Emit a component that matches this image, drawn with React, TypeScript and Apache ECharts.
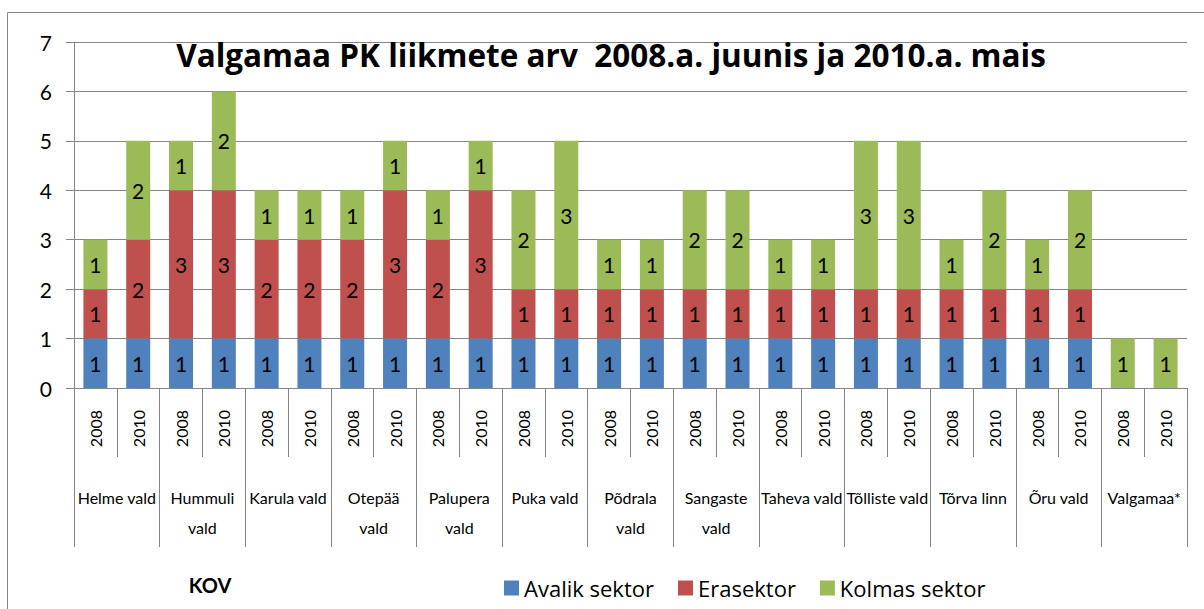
import React, { useEffect, useRef } from "react";
import * as echarts from "echarts";

const groups = [
  "Helme vald",
  "Hummuli\nvald",
  "Karula vald",
  "Otepää\nvald",
  "Palupera\nvald",
  "Puka vald",
  "Põdrala\nvald",
  "Sangaste\nvald",
  "Taheva vald",
  "Tõlliste vald",
  "Tõrva linn",
  "Õru vald",
  "Valgamaa*",
];
const years = ["2008", "2010"];

// values per bar: order = group1-2008, group1-2010, group2-2008, ...
const avalik = [1, 1, 1, 1, 1, 1, 1, 1, 1, 1, 1, 1, 1, 1, 1, 1, 1, 1, 1, 1, 1, 1, 1, 1, 0, 0];
const erasektor = [1, 2, 3, 3, 2, 2, 2, 3, 2, 3, 1, 1, 1, 1, 1, 1, 1, 1, 1, 1, 1, 1, 1, 1, 0, 0];
const kolmas = [1, 2, 1, 2, 1, 1, 1, 1, 1, 1, 2, 3, 1, 1, 2, 2, 1, 1, 3, 3, 1, 2, 1, 2, 1, 1];

const yTicks = { min: 0, max: 7, interval: 1 };
const titleText = "Valgamaa PK liikmete arv  2008.a. juunis ja 2010.a. mais";
const axisTitle = "KOV";

const FONT = "Lato, 'Noto Sans', sans-serif";
const WIDE = "'Open Sans', 'Noto Sans', sans-serif";
const GRAY = "#868686";

export default function App() {
  const ref = useRef<HTMLDivElement>(null);
  useEffect(() => {
    if (!ref.current) return;
    const chart = echarts.init(ref.current, null, { renderer: "svg" });
    const cats: string[] = [];
    groups.forEach(() => years.forEach((y) => cats.push(y)));
    const lbl = {
      show: true,
      position: "inside",
      color: "#000",
      fontSize: 21,
      fontFamily: FONT,
      formatter: (p: any) => (p.value ? String(p.value) : ""),
    };
    const mk = (name: string, data: number[], color: string) => ({
      name,
      type: "bar",
      stack: "s",
      data,
      barWidth: 24,
      itemStyle: { color },
      label: lbl,
      xAxisIndex: 0,
    });
    chart.setOption({
      animation: false,
      textStyle: { fontFamily: FONT },
      title: {
        text: titleText,
        left: 611,
        textAlign: "center",
        top: 38,
        padding: 0,
        textStyle: { fontSize: 31.5, fontWeight: "bold", color: "#000", fontFamily: WIDE },
      },
      grid: { left: 74, right: 17, top: 42, bottom: 221, containLabel: false },
      legend: {
        left: 504,
        top: 577,
        padding: 0,
        itemWidth: 15,
        itemHeight: 15,
        itemGap: 24,
        icon: "rect",
        textStyle: { fontSize: 22, color: "#000", fontFamily: WIDE },
        data: ["Avalik sektor", "Erasektor", "Kolmas sektor"],
      },
      xAxis: [
        {
          type: "category",
          data: cats,
          position: "bottom",
          axisLine: { show: true, lineStyle: { color: GRAY } },
          axisTick: { show: true, length: 69, interval: 0, lineStyle: { color: GRAY } },
          axisLabel: {
            interval: 0,
            rotate: 90,
            margin: 22,
            fontSize: 16,
            color: "#000",
            fontFamily: FONT,
          },
        },
        {
          type: "category",
          data: groups,
          position: "bottom",
          axisLine: { show: false },
          axisTick: { show: true, length: 159, interval: 0, lineStyle: { color: GRAY } },
          axisLabel: {
            interval: 0,
            margin: 94,
            fontSize: 16,
            lineHeight: 30,
            color: "#000",
            fontFamily: FONT,
            verticalAlign: "top",
          },
        },
      ],
      yAxis: {
        type: "value",
        min: yTicks.min,
        max: yTicks.max,
        interval: yTicks.interval,
        axisLine: { show: true, lineStyle: { color: GRAY } },
        axisTick: { show: true, length: 8, lineStyle: { color: GRAY } },
        splitLine: { show: true, lineStyle: { color: GRAY } },
        axisLabel: { fontSize: 21, color: "#000", margin: 22, fontFamily: FONT },
      },
      series: [
        mk("Avalik sektor", avalik, "#4F81BD"),
        mk("Erasektor", erasektor, "#C0504D"),
        mk("Kolmas sektor", kolmas, "#9BBB59"),
      ],
      graphic: [
        {
          type: "rect",
          shape: { x: 7.5, y: 12.5, width: 1300, height: 700 },
          style: { fill: "none", stroke: GRAY, lineWidth: 1 },
          silent: true,
        },
        {
          type: "text",
          x: 210,
          y: 585,
          style: {
            text: axisTitle,
            fontSize: 20,
            fontWeight: "bold",
            fill: "#000",
            align: "center",
            verticalAlign: "middle",
            fontFamily: FONT,
          },
        },
      ],
    });
    return () => chart.dispose();
  }, []);
  return (
    <div
      ref={ref}
      style={{ position: "fixed", left: 0, top: 0, width: 1204, height: 609, background: "#fff" }}
    />
  );
}
